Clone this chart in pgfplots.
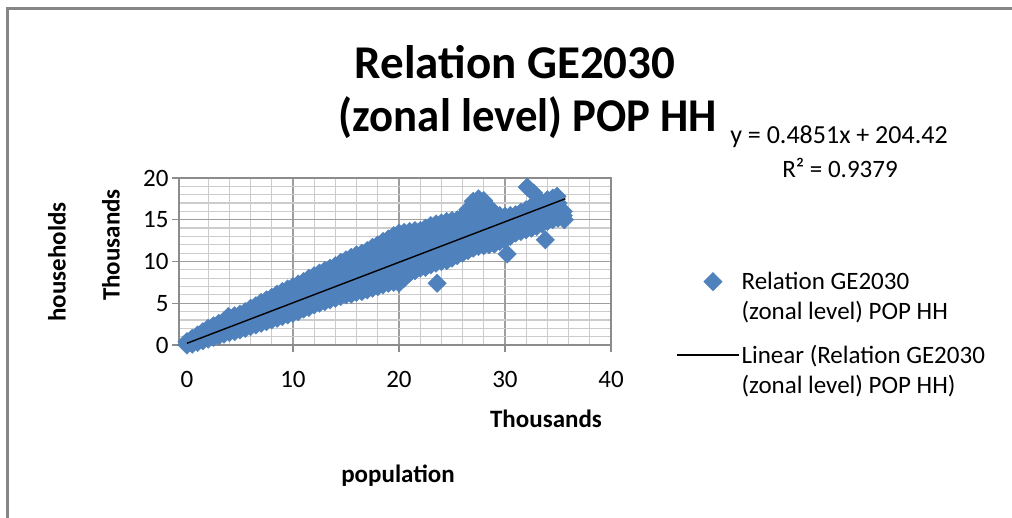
\documentclass[border=0pt]{standalone}
\usepackage{pgfplots}
\pgfplotsset{compat=1.18}
\usepackage{fontspec}
\setmainfont{Carlito}
\definecolor{exblue}{HTML}{4F81BD}
\definecolor{frame}{RGB}{134,134,134}
\newcommand{\reg}{\fontsize{25}{30}\selectfont}
\pgfplotsset{
  legmark/.style={legend image code/.code={\path[draw=none,fill=none] (0pt,-15pt) rectangle (62pt,15pt); \draw[##1] plot coordinates {(36pt,15pt)};}},
  legline/.style={legend image code/.code={\path[draw=none,fill=none] (0pt,-15pt) rectangle (62pt,15pt); \draw[##1] (0pt,15pt) -- (62pt,15pt);}},
}
\begin{document}
\begin{tikzpicture}
\path[use as bounding box] (0,0) rectangle (1012pt,518pt);
\fill[white] (0,0) rectangle (1012pt,518pt);
\draw[line width=2.5pt, frame] (7.25pt,0pt) -- (7.25pt,509.25pt) -- (1012pt,509.25pt);
\begin{axis}[
  clip=false, clip marker paths=true,
  at={(179pt,173pt)}, anchor=south west,
  width=432pt, height=167pt, scale only axis,
  xmin=-0.75, xmax=40, ymin=0, ymax=20,
  xtick={10,20,30,40}, ytick={0,5,10,15,20},
  extra x ticks={0}, extra x tick style={grid=none},
  minor xtick={2,4,6,8,12,14,16,18,22,24,26,28,32,34,36,38},
  minor ytick={1,2,3,4,6,7,8,9,11,12,13,14,16,17,18,19},
  grid=both,
  major grid style={line width=1.2pt, color=black!38},
  minor grid style={line width=1.2pt, color=black!20},
  axis line style={line width=1.2pt, color=black!45},
  tick align=outside, tick pos=left,
  major tick length=7pt, minor tick length=0pt,
  tick style={line width=1.2pt, color=black!45},
  /pgf/number format/assume math mode=true,
  tick label style={font=\reg, text=black},
  xticklabel style={yshift=-16pt},
  legend style={at={(1.1505,0.449)}, anchor=north west, draw=none, fill=none,
    font=\reg, cells={align=left}, row sep=20pt, inner sep=0pt},
  legend cell align=left,
]
\addplot[legmark, only marks, mark=square*, mark size=6.5pt, mark options={rotate=45, fill=exblue, draw=exblue}]
table {
x y
0 0.0
0 0.4
0.5 0.1
0.5 0.8
1 0.3
1 1.2
1.5 0.5
1.5 1.6
2 0.7
2 2.0
2.5 0.9
2.5 2.3
3 1.1
3 2.6
3.5 1.3
3.5 2.9
3.9 3.4
4 1.5
4 2.4
4 3.3
4.5 1.6
4.5 2.6
4.5 3.5
5 1.8
5 2.8
5 3.7
5.5 2.0
5.5 3.0
5.5 4.0
6 2.2
6 3.3
6 4.4
6.5 2.4
6.5 3.5
6.5 4.7
7 2.6
7 3.8
7 5.1
7.5 2.8
7.5 4.1
7.5 5.4
8 3.0
8 4.3
8 5.7
8.5 3.2
8.5 4.6
8.5 6.1
9 3.4
9 4.9
9 6.4
9.5 3.6
9.5 5.1
9.5 6.7
10 3.8
10 5.4
10 7.0
10.5 4.0
10.5 5.6
10.5 7.3
11 4.3
11 5.9
11 7.6
11.5 4.5
11.5 6.2
11.5 8.0
12 4.8
12 6.5
12 8.3
12.5 5.0
12.5 6.8
12.5 8.6
13 5.2
13 6.5
13 7.7
13 8.9
13.5 5.4
13.5 6.7
13.5 8.0
13.5 9.2
14 5.6
14 6.9
14 8.2
14 9.5
14.5 5.8
14.5 7.1
14.5 8.5
14.5 9.9
15 6.0
15 7.4
15 8.8
15 10.2
15.5 6.1
15.5 7.6
15.5 9.0
15.5 10.5
16 6.3
16 7.8
16 9.3
16 10.8
16.5 6.4
16.5 7.9
16.5 9.5
16.5 11.0
17 6.6
17 8.2
17 9.7
17 11.3
17.5 6.8
17.5 8.4
17.5 10.0
17.5 11.7
18 7.0
18 8.6
18 10.3
18 12.0
18.5 7.2
18.5 8.9
18.5 10.6
18.5 12.4
19 7.4
19 9.1
19 10.9
19 12.7
19.5 7.5
19.5 8.9
19.5 10.3
19.5 11.7
19.5 13.1
20 7.4
20 9.0
20 10.5
20 11.9
20 13.4
20.5 8.0
20.5 9.4
20.5 10.8
20.5 12.2
20.5 13.5
21 8.6
21 9.9
21 11.1
21 12.4
21 13.6
21.5 8.9
21.5 10.1
21.5 11.3
21.5 12.5
21.5 13.7
22 9.2
22 10.4
22 11.5
22 12.6
22 13.7
22.5 9.3
22.5 10.5
22.5 11.7
22.5 12.9
22.5 14.0
23 9.6
23 10.8
23 12.0
23 13.2
23 14.3
23.6 7.4
23.5 9.8
23.5 11.0
23.5 12.2
23.5 13.4
23.5 14.5
24 10.0
24 11.2
24 12.4
24 13.5
24 14.6
24.5 10.1
24.5 11.3
24.5 12.5
24.5 13.7
24.5 14.8
25 10.4
25 11.5
25 12.7
25 13.8
25 14.9
25.5 10.7
25.5 11.8
25.5 12.9
25.5 14.0
25.5 15.0
26 11.0
26 12.1
26 13.2
26 14.3
26 15.4
26.5 11.3
26.5 12.5
26.5 13.7
26.5 14.9
26.5 16.2
27 11.6
27 13.0
27 14.4
27 15.8
27 17.2
27.5 11.8
27.5 13.2
27.5 14.6
27.5 16.1
27.5 17.5
28 11.9
28 13.3
28 14.6
28 16.0
28 17.3
28.5 12.0
28.5 13.1
28.5 14.3
28.5 15.4
28.5 16.5
29 12.1
29 13.3
29 14.4
29 15.6
29.5 12.4
29.5 13.4
29.5 14.5
29.5 15.5
30 12.6
30 13.5
30 14.5
30 15.4
30.2 10.9
30.5 13.0
30.5 13.8
30.5 14.7
30.5 15.5
31 13.4
31 14.5
31 15.6
31.5 13.6
31.5 14.8
31.5 15.9
32 13.8
32 15.0
32 16.2
32.1 18.9
32.7 18.2
32.5 14.0
32.5 15.3
32.5 16.6
33 14.2
33 15.5
33 16.8
33.5 14.5
33.5 15.8
33.5 17.0
33.8 12.6
34 14.8
34 16.1
34 17.4
34.5 15.0
34.5 16.4
34.5 17.6
34.9 17.8
35 15.2
35 16.2
35 17.0
35.5 15.5
35.5 16.0
35.6 15.0
};
\addlegendentry{Relation GE2030\\(zonal level) POP HH}
\addplot[legline, black, line width=1.4pt]
coordinates {(0,0.204) (35.7,17.52)};
\addlegendentry{Linear (Relation GE2030\\(zonal level) POP HH)}
\end{axis}
\node[font=\bfseries\fontsize{47}{56}\selectfont] at (515pt,456pt) {Relation GE2030};
\node[font=\bfseries\fontsize{47}{56}\selectfont] at (528pt,400pt) {\scalebox{0.952}[1]{(zonal level) POP HH}};
\node[font=\fontsize{26}{30}\selectfont] at (839pt,381pt) {y = 0.4851x + 204.42};
\node[font=\reg] at (840pt,350pt) {R² = 0.9379};
\node[font=\bfseries\reg] at (546pt,99pt) {Thousands};
\node[font=\bfseries\reg] at (398pt,42pt) {population};
\node[font=\bfseries\reg, rotate=90] at (111pt,273pt) {Thousands};
\node[font=\bfseries\reg, rotate=90] at (57pt,256pt) {households};
\end{tikzpicture}
\end{document}
